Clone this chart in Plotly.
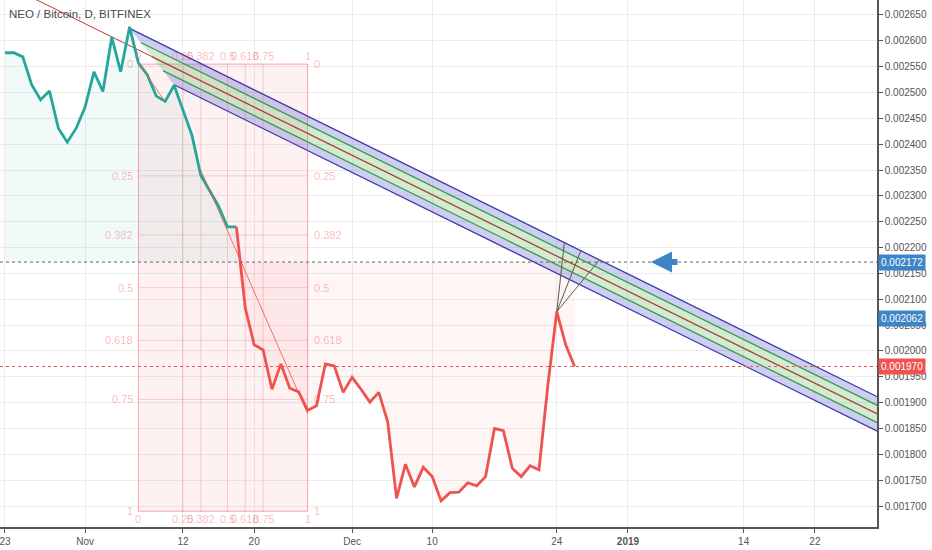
import numpy as np
import pandas as pd
import plotly.graph_objects as go

# daily closes, NEO/BTC (Bitfinex)
start = pd.Timestamp("2018-10-23")
close = [0.002577, 0.002577, 0.002569, 0.002515, 0.002486, 0.002503, 0.002431, 0.002404, 0.002431, 0.002472,
         0.002540, 0.002502, 0.002607, 0.002540, 0.002627, 0.002557, 0.002534, 0.002493, 0.002483, 0.002514,
         0.002466, 0.002418, 0.002340, 0.002310, 0.002280, 0.002240, 0.002240, 0.002083, 0.002012, 0.002002,
         0.001926, 0.001975, 0.001928, 0.001921, 0.001885, 0.001894, 0.001975, 0.001971, 0.001920, 0.001949,
         0.001926, 0.001901, 0.001920, 0.001863, 0.001715, 0.001781, 0.001737, 0.001775, 0.001757, 0.001710,
         0.001726, 0.001727, 0.001745, 0.001739, 0.001757, 0.001850, 0.001846, 0.001773, 0.001757, 0.001778,
         0.001770, 0.001934, 0.002076, 0.002012, 0.001970]
dates = pd.date_range(start, periods=len(close), freq="D")

baseline = 0.002172
last_price = 0.001970
mark_price = 0.002062

# pitchfork anchors A, B, C and its levels
pf_dates = ["2018-10-26", "2018-11-06", "2018-11-11"]
pf_vals = [0.002684, 0.002624, 0.002515]
pf_levels = [0.25, 0.5]

# fib box
fib_start, fib_end = "2018-11-07", "2018-11-26"
fib_top, fib_bottom = 0.002555, 0.001690
fib_levels = [0, 0.25, 0.382, 0.5, 0.618, 0.75, 1]
fib_labels = ["0", "0.25", "0.382", "0.5", "0.618", "0.75", "1"]

# thin trend lines inside the fib box
tl_dates = ["2018-11-07", "2018-11-10", None, "2018-11-14", "2018-11-26"]
tl_vals = [0.002557, 0.002482, None, 0.002350, 0.001879]

# fan from the Dec 24 high up to the upper tine (days after pivot)
fan_pivot = ("2018-12-24", 0.002076)
fan_offsets = [0.85, 2.7, 4.8]

tick_dates = ["2018-10-23", "2018-11-01", "2018-11-12", "2018-11-20", "2018-12-01",
              "2018-12-10", "2018-12-24", "2019-01-01", "2019-01-14", "2019-01-22"]
tick_text = ["23", "Nov", "12", "20", "Dec", "10", "24", "<b>2019</b>", "14", "22"]

x_range = [start - pd.Timedelta(days=0.56), start + pd.Timedelta(days=97.98)]
y_range = [0.0016595, 0.002679]

TEAL = "#26a69a"
RED = "#ef5350"


def day(d):
    return (pd.Timestamp(d) - start) / pd.Timedelta(days=1)


def to_date(d):
    return start + pd.to_timedelta(d, unit="D")


fig = go.Figure()

# baseline style fills
c = np.array(close)
base = np.full(len(c), baseline)
fig.add_trace(go.Scatter(x=dates, y=base, mode="lines", line=dict(width=0), hoverinfo="skip"))
fig.add_trace(go.Scatter(x=dates, y=np.maximum(c, base), mode="lines", line=dict(width=0),
                         fill="tonexty", fillcolor="rgba(38,166,154,0.06)", hoverinfo="skip"))
fig.add_trace(go.Scatter(x=dates, y=base, mode="lines", line=dict(width=0), hoverinfo="skip"))
fig.add_trace(go.Scatter(x=dates, y=np.minimum(c, base), mode="lines", line=dict(width=0),
                         fill="tonexty", fillcolor="rgba(239,83,80,0.06)", hoverinfo="skip"))

# pitchfork
A = np.array([day(pf_dates[0]), pf_vals[0]])
B = np.array([day(pf_dates[1]), pf_vals[1]])
C = np.array([day(pf_dates[2]), pf_vals[2]])
M = (B + C) / 2
slope = (M[1] - A[1]) / (M[0] - A[0])
end_d = 100


def tine(p):
    return [p[0], end_d], [p[1], p[1] + slope * (end_d - p[0])]


tines = {}
for lv in pf_levels:
    tines[lv] = tine(M + 2 * lv * (B - M))
    tines[-lv] = tine(M + 2 * lv * (C - M))
tines[0] = tine(M)


def band(a, b, color):
    xs = tines[a][0] + tines[b][0][::-1] + [tines[a][0][0]]
    ys = tines[a][1] + tines[b][1][::-1] + [tines[a][1][0]]
    fig.add_trace(go.Scatter(x=[to_date(v) for v in xs], y=ys, mode="lines", line=dict(width=0),
                             fill="toself", fillcolor=color, hoverinfo="skip"))


band(0.5, 0.25, "rgba(80,80,210,0.28)")
band(0.25, -0.25, "rgba(76,175,80,0.25)")
band(-0.25, -0.5, "rgba(80,80,210,0.28)")

fig.add_trace(go.Scatter(x=[to_date(A[0]), to_date(M[0])], y=[A[1], M[1]], mode="lines",
                         line=dict(color="#c0392b", width=1)))
tine_colors = {0.5: "#3b3ba8", 0.25: "#3c9a45", 0: "#a8452f", -0.25: "#3c9a45", -0.5: "#3b3ba8"}
for lv, col in tine_colors.items():
    xs, ys = tines[lv]
    fig.add_trace(go.Scatter(x=[to_date(v) for v in xs], y=ys, mode="lines",
                             line=dict(color=col, width=1.3)))

# price line, teal above the baseline, red below
cross = int(np.argmax(c < baseline))
fig.add_trace(go.Scatter(x=dates[:cross], y=close[:cross], mode="lines",
                         line=dict(color=TEAL, width=2.8)))
fig.add_trace(go.Scatter(x=dates[cross - 1:], y=close[cross - 1:], mode="lines",
                         line=dict(color=RED, width=2.8)))

# thin trend lines
fig.add_trace(go.Scatter(x=tl_dates, y=tl_vals, mode="lines", connectgaps=False,
                         line=dict(color="rgba(239,83,80,0.8)", width=1)))

# fan lines
p_d = day(fan_pivot[0])
top_x, top_y = tines[0.5]
for off in fan_offsets:
    d = p_d + off
    v = top_y[0] + slope * (d - top_x[0])
    fig.add_trace(go.Scatter(x=[to_date(p_d), to_date(d)], y=[fan_pivot[1], v], mode="lines",
                             line=dict(color="#5a5a4a", width=1)))

# fib box
shapes = []
span = int(day(fib_end) - day(fib_start))
shapes.append(dict(type="rect", xref="x", yref="y", x0=fib_start, x1=fib_end, y0=fib_bottom, y1=fib_top,
                   fillcolor="rgba(242,54,69,0.07)", line=dict(color="rgba(242,54,69,0.25)", width=1),
                   layer="between"))
annotations = []
lab_font = dict(family="Liberation Sans", size=11, color="rgba(242,54,69,0.35)")
for r, lab in zip(fib_levels, fib_labels):
    xd = to_date(day(fib_start) + round(r * span))
    yv = fib_top - r * (fib_top - fib_bottom)
    shapes.append(dict(type="line", xref="x", yref="y", x0=xd, x1=xd, y0=fib_bottom, y1=fib_top,
                       line=dict(color="rgba(242,54,69,0.22)", width=1), layer="between"))
    shapes.append(dict(type="line", xref="x", yref="y", x0=fib_start, x1=fib_end, y0=yv, y1=yv,
                       line=dict(color="rgba(242,54,69,0.22)", width=1), layer="between"))
    annotations.append(dict(x=fib_start, y=yv, text=lab, showarrow=False, xanchor="right", xshift=-3,
                            font=lab_font))
    annotations.append(dict(x=fib_end, y=yv, text=lab, showarrow=False, xanchor="left", xshift=4,
                            font=lab_font))
    annotations.append(dict(x=xd, y=fib_top, text=lab, showarrow=False, yanchor="bottom", yshift=0,
                            font=lab_font))
    annotations.append(dict(x=xd, y=fib_bottom, text=lab, showarrow=False, yanchor="top", yshift=0,
                            font=lab_font))

# dotted price lines
shapes.append(dict(type="line", xref="paper", yref="y", x0=0, x1=1, y0=baseline, y1=baseline,
                   line=dict(color="#666", width=1, dash="dot")))
shapes.append(dict(type="line", xref="paper", yref="y", x0=0, x1=1, y0=last_price, y1=last_price,
                   line=dict(color=RED, width=1, dash="dot")))

# price labels on the axis
for v, col in [(baseline, "#3d85c6"), (mark_price, "#3d85c6"), (last_price, RED)]:
    annotations.append(dict(xref="paper", x=1, y=v, text=f"{v:.6f}", showarrow=False, xanchor="left",
                            bgcolor=col, borderpad=2, xshift=1,
                            font=dict(family="Liberation Sans", size=10, color="white")))

# blue arrow pointing at the baseline
annotations.append(dict(x="2019-01-03 14:00", y=baseline, ax=28, ay=0, text="", showarrow=True,
                        arrowhead=2, arrowsize=0.7, arrowwidth=6, arrowcolor="#3d85c6"))

annotations.append(dict(xref="paper", yref="paper", x=0.008, y=0.988, xanchor="left", yanchor="top",
                        text="NEO / Bitcoin, D, BITFINEX", showarrow=False,
                        font=dict(family="Liberation Sans", size=11.5, color="#4a4a4a")))

fig.update_layout(
    width=932, height=550, showlegend=False,
    margin=dict(l=0, r=55, t=0, b=23),
    paper_bgcolor="white", plot_bgcolor="white",
    shapes=shapes, annotations=annotations,
    xaxis=dict(type="date", range=x_range, tickvals=tick_dates, ticktext=tick_text,
               ticklabeloverflow="allow",
               showgrid=True, gridcolor="#ececec", zeroline=False,
               showline=True, linecolor="#555", linewidth=1.5, ticks="outside", ticklen=4, tickcolor="#555",
               tickfont=dict(family="Liberation Sans", size=10, color="#555")),
    yaxis=dict(side="right", range=y_range, dtick=0.00005, tick0=0, tickformat=".6f",
               showgrid=True, gridcolor="#ececec", zeroline=False,
               showline=True, linecolor="#555", linewidth=1.5, ticks="outside", ticklen=4, tickcolor="#555",
               tickfont=dict(family="Liberation Sans", size=10, color="#555")),
)

fig.write_html("out.html", config={"displayModeBar": False},
               post_script="document.body.style.margin='0';")
